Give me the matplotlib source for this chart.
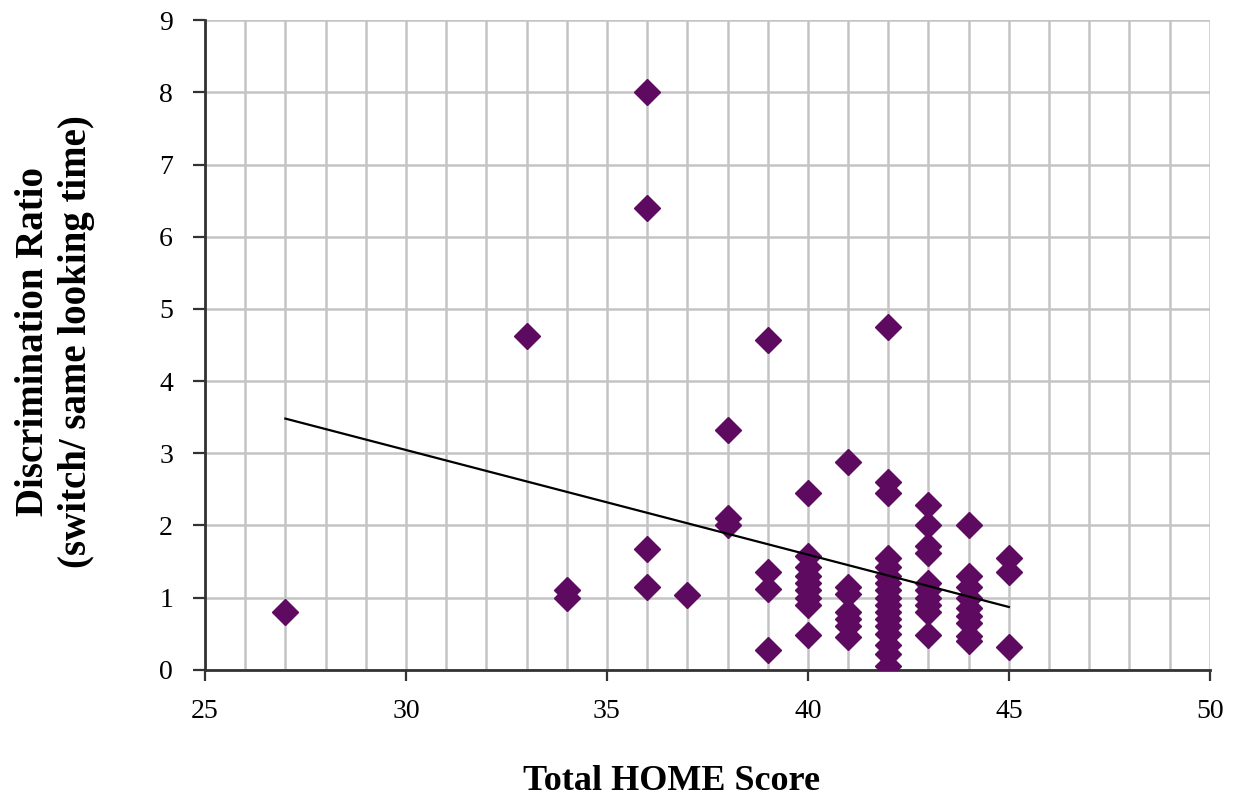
import matplotlib.pyplot as plt
import numpy as np

# Total HOME score (x) and discrimination ratio (y)
home_27 = [27]
ratio_27 = [0.8]
home_33 = [33]
ratio_33 = [4.63]
home_34 = [34, 34]
ratio_34 = [1.1, 1.0]
home_36 = [36, 36, 36, 36]
ratio_36 = [8.0, 6.4, 1.67, 1.15]
home_37 = [37]
ratio_37 = [1.03]
home_38 = [38, 38, 38]
ratio_38 = [3.32, 2.1, 2.0]
home_39 = [39, 39, 39, 39]
ratio_39 = [4.57, 1.35, 1.12, 0.28]
home_40 = [40] * 9
ratio_40 = [2.45, 1.58, 1.42, 1.3, 1.2, 1.1, 1.0, 0.9, 0.48]
home_41 = [41] * 7
ratio_41 = [2.88, 1.15, 1.05, 0.8, 0.7, 0.6, 0.45]
home_42 = [42] * 17
ratio_42 = [4.75, 2.6, 2.45, 1.55, 1.42, 1.3, 1.2, 1.1, 1.0, 0.9, 0.8, 0.7,
            0.6, 0.5, 0.35, 0.22, 0.05]
home_43 = [43] * 10
ratio_43 = [2.28, 2.0, 1.72, 1.62, 1.2, 1.1, 1.0, 0.9, 0.8, 0.48]
home_44 = [44] * 9
ratio_44 = [2.0, 1.3, 1.15, 1.0, 0.85, 0.75, 0.65, 0.47, 0.4]
home_45 = [45, 45, 45]
ratio_45 = [1.55, 1.35, 0.32]

# linear trend line as drawn in the figure
trend_x = [27, 45]
trend_y = [3.48, 0.87]

home = (home_27 + home_33 + home_34 + home_36 + home_37 + home_38 + home_39
        + home_40 + home_41 + home_42 + home_43 + home_44 + home_45)
ratio = (ratio_27 + ratio_33 + ratio_34 + ratio_36 + ratio_37 + ratio_38 + ratio_39
         + ratio_40 + ratio_41 + ratio_42 + ratio_43 + ratio_44 + ratio_45)

plt.rcParams['font.family'] = ['Liberation Serif', 'DejaVu Serif']

fig = plt.figure(figsize=(12.46, 8.06), dpi=100)
ax = fig.add_axes([0.1645, 0.169, 0.8065, 0.806])

ax.plot(home, ratio, linestyle='none', marker='D', markersize=13,
        color='#5f0a61', zorder=3)
ax.plot(trend_x, trend_y, color='black', linewidth=1.6, zorder=4)

ax.set_xlim(25, 50)
ax.set_ylim(0, 9)
ax.set_xticks(np.arange(25, 51, 5))
ax.set_xticks(np.arange(25, 51, 1), minor=True)
ax.set_yticks(np.arange(0, 10, 1))
ax.grid(True, which='both', color='#c4c4c4', linewidth=1.8, zorder=0)
ax.set_axisbelow(True)

for side in ['top', 'right']:
    ax.spines[side].set_visible(False)
for side in ['left', 'bottom']:
    ax.spines[side].set_color('#333333')
    ax.spines[side].set_linewidth(2)

ax.tick_params(axis='both', which='major', labelsize=20, width=1.6,
               color='#333333', direction='out')
ax.tick_params(axis='x', which='major', length=8, pad=13)
ax.tick_params(axis='y', which='major', length=9, pad=14)
ax.tick_params(axis='x', which='minor', length=0)

ax.set_xlabel('Total HOME Score', fontsize=26, fontweight='bold')
ax.xaxis.set_label_coords(0.464, -0.146)
ax.set_ylabel('Discrimination Ratio\n(switch/ same looking time)', fontsize=28,
              fontweight='bold', linespacing=1.2)
ax.yaxis.set_label_coords(-0.1095, 0.506)

fig.savefig('out.png', dpi=100)
